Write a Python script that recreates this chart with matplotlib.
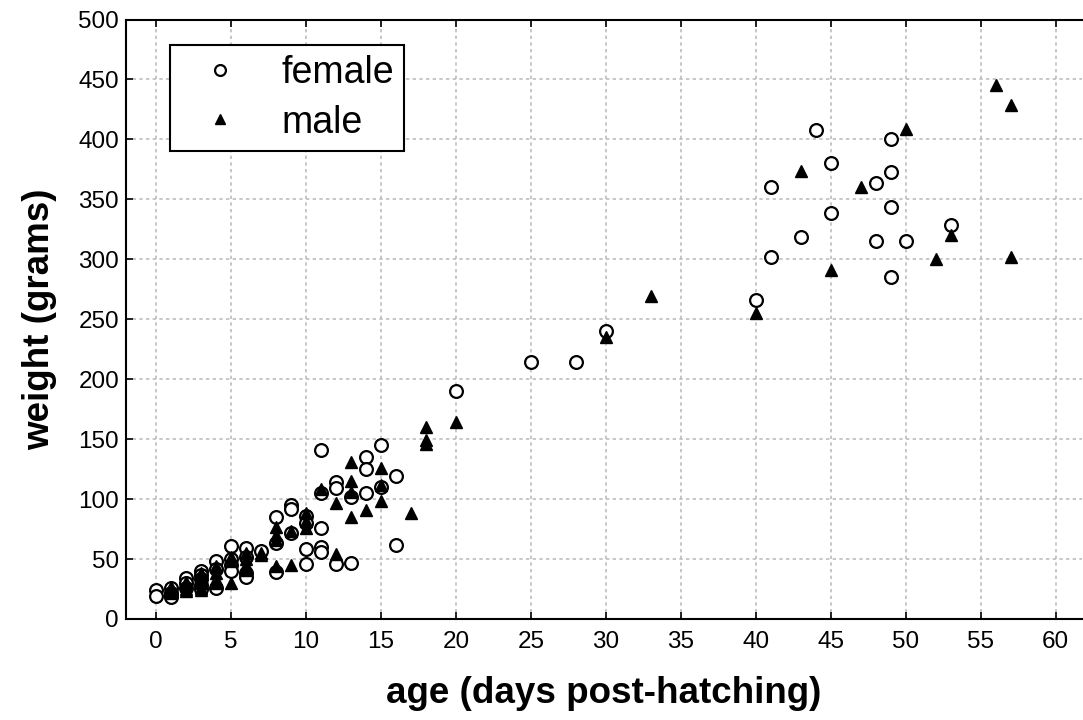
import matplotlib.pyplot as plt
plt.switch_backend('agg')

# < -- Data

female_age = [0, 0, 1, 1, 1, 1, 2, 2, 2, 3, 3, 3, 3, 3, 4, 4, 4,
              5, 5, 5, 5, 6, 6, 6, 6, 7, 8, 8, 8, 9, 9, 9,
              10, 10, 10, 10, 11, 11, 11, 11, 11, 12, 12, 12, 13, 13,
              14, 14, 14, 15, 15, 16, 16, 20, 25, 28, 30,
              40, 41, 41, 43, 44, 45, 45, 48, 48, 49, 49, 49, 49, 50, 53]
female_weight = [24, 19, 26, 22, 20, 18, 34, 30, 26, 40, 37, 33, 28, 25, 48, 42, 26,
                 61, 50, 45, 40, 59, 52, 38, 35, 57, 85, 63, 39, 95, 92, 72,
                 86, 80, 58, 46, 141, 105, 76, 60, 56, 114, 109, 46, 102, 47,
                 135, 125, 105, 145, 110, 119, 62, 190, 214, 214, 240,
                 266, 360, 302, 319, 408, 380, 339, 364, 315, 400, 373, 344, 285, 315, 329]

male_age = [1, 1, 1, 2, 2, 2, 2, 3, 3, 3, 3, 3, 4, 4, 4, 4,
            5, 5, 5, 6, 6, 6, 6, 7, 7, 8, 8, 8, 8, 9, 9,
            10, 10, 10, 11, 12, 12, 13, 13, 13, 13, 14,
            15, 15, 15, 17, 18, 18, 18, 20, 30, 33,
            40, 43, 45, 47, 50, 52, 53, 56, 57, 57]
male_weight = [27, 24, 22, 31, 28, 25, 23, 38, 34, 30, 26, 24, 44, 38, 33, 30,
               52, 48, 30, 55, 50, 45, 41, 55, 53, 77, 70, 66, 44, 73, 45,
               88, 82, 76, 108, 97, 54, 131, 115, 106, 85, 91,
               126, 112, 98, 88, 160, 149, 146, 164, 235, 269,
               255, 374, 291, 360, 409, 300, 320, 445, 429, 302]

x_ticks = list(range(0, 61, 5))
y_ticks = list(range(0, 501, 50))

# < -- Plot

plt.rcParams['font.family'] = ['Liberation Sans', 'DejaVu Sans']

fig = plt.figure(figsize=(10.83, 7.2), dpi=100)
ax = fig.add_axes([0.1163, 0.1403, 0.8827, 0.8326])

ax.plot(female_age, female_weight, 'o', markersize=9.2, markerfacecolor='white',
        markeredgecolor='black', markeredgewidth=1.6, label='female', zorder=3)
ax.plot(male_age, male_weight, '^', markersize=9.0, color='black', label='male', zorder=3)

ax.set_xlim(-2, 61.75)
ax.set_ylim(0, 500)
ax.set_xticks(x_ticks)
ax.set_yticks(y_ticks)
ax.tick_params(direction='in', length=5, width=1.2, labelsize=17.5, top=True, right=False)
ax.tick_params(axis='x', pad=9)
ax.tick_params(axis='y', pad=5)
ax.grid(True, color='#bdbdbd', linestyle=(0, (2, 2)), linewidth=1.2)
ax.set_axisbelow(True)
for s in ['left', 'bottom', 'top']:
    ax.spines[s].set_linewidth(1.5)
ax.spines['right'].set_visible(False)

ax.set_xlabel('age (days post-hatching)', fontsize=26.5, fontweight='bold', labelpad=16)
ax.set_ylabel('weight (grams)', fontsize=26.5, fontweight='bold', labelpad=15)

leg = ax.legend(loc='upper left', bbox_to_anchor=(0.046, 0.9575), fontsize=27,
                fancybox=False, framealpha=1, edgecolor='black', handletextpad=0.56,
                borderpad=0.28, markerscale=0.85, handlelength=2.13, labelspacing=0.35,
                borderaxespad=0)
leg.get_frame().set_linewidth(1.5)

fig.savefig('out.png', dpi=100)
plt.close()
